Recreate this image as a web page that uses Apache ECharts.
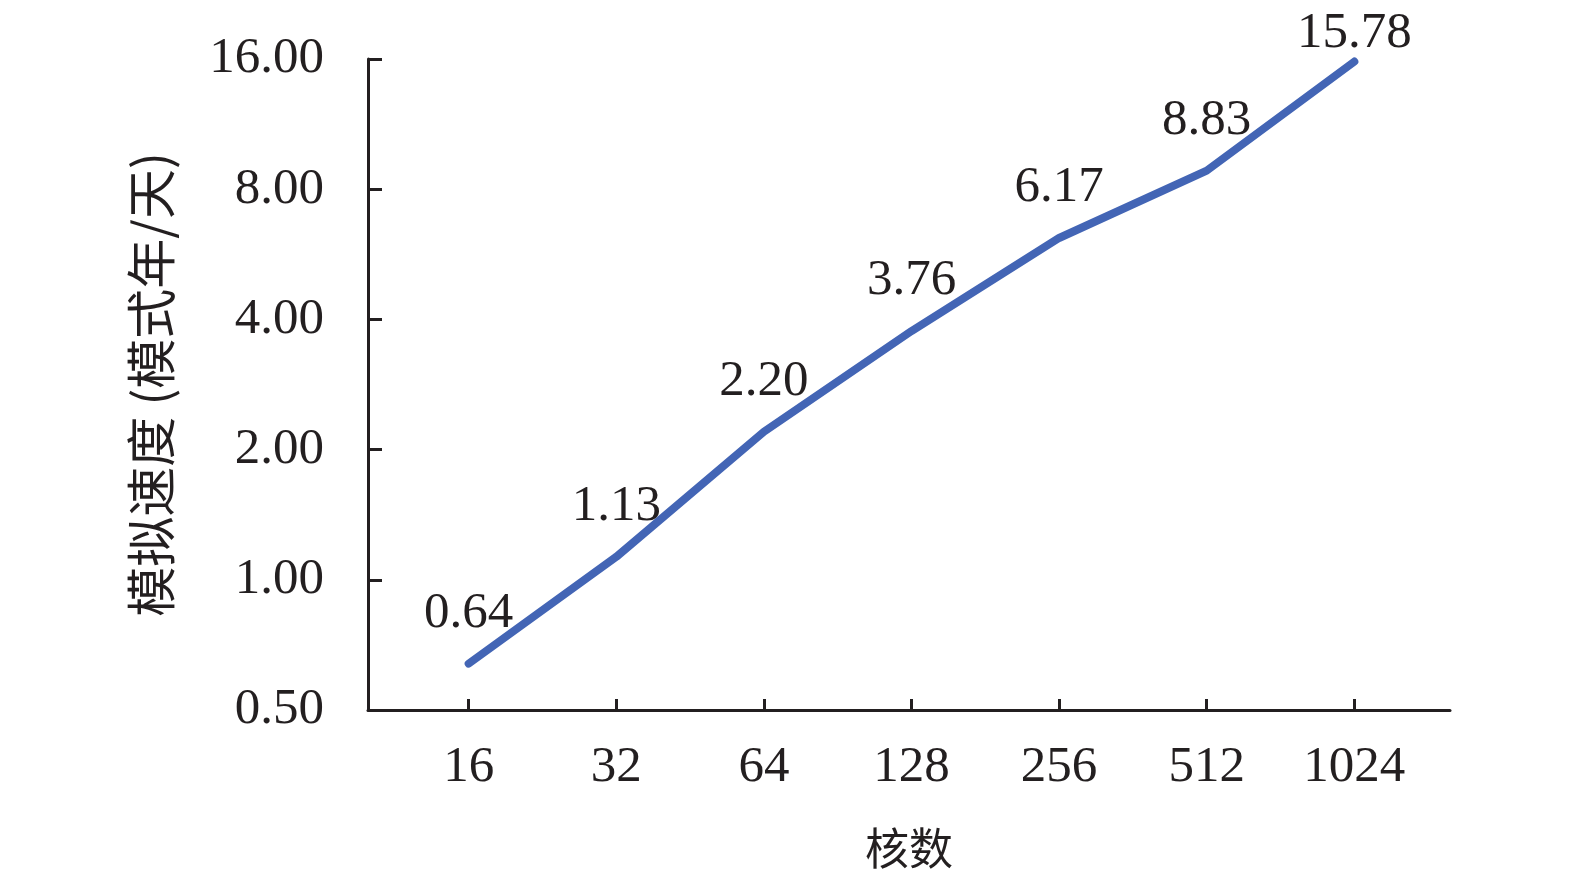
<!DOCTYPE html>
<html>
<head>
    <meta charset="utf-8">
    <title>模拟速度</title>
    <style>
        html, body { margin: 0; padding: 0; background: #fff; }
    </style>
</head>
<body>
        <div id="main" style="width: 1575px;height:882px;"></div>
</body>
<script src="https://cdn.jsdelivr.net/npm/echarts@6/dist/echarts.min.js"></script>
<script>
// 核数 (x) 和 模拟速度 (y, 模式年/天)
var cores = ['16', '32', '64', '128', '256', '512', '1024'];
var speeds = [0.64, 1.13, 2.20, 3.76, 6.17, 8.83, 15.78];

var serif = "'Liberation Serif', 'Times New Roman', 'Noto Sans CJK SC', serif";
var ink = '#231f20';

var myChart = echarts.init(document.getElementById('main'));

var idx = cores.map(function (c, i) { return i; });

myChart.setOption({
        animation: false,
        grid: {
            left: 368,
            right: 125,
            top: 59,
            bottom: 172,
            outerBoundsMode: 'none',
            containLabel: false
        },
        xAxis: {
            type: 'value',
            min: -0.682,
            max: 6.648,
            name: '核数',
            nameLocation: 'middle',
            nameGap: 116,
            nameTextStyle: { fontFamily: "'Noto Sans CJK SC', sans-serif", fontSize: 44, color: ink },
            axisLine: { show: true, onZero: false, lineStyle: { color: ink, width: 3 } },
            axisTick: { show: true, inside: true, length: 11, customValues: idx, lineStyle: { color: ink, width: 3 } },
            axisLabel: {
                customValues: idx,
                margin: 32,
                fontFamily: serif,
                fontSize: 51,
                color: ink,
                formatter: function (v) { return cores[Math.round(v)]; }
            },
            splitLine: { show: false }
        },
        yAxis: {
            type: 'log',
            logBase: 2,
            min: 0.5,
            max: 16,
            name: '模拟速度 (模式年/天)',
            nameLocation: 'middle',
            nameGap: 192,
            nameRotate: 90,
            nameTextStyle: { fontFamily: "'Noto Sans CJK SC', sans-serif", fontSize: 50, color: ink },
            axisLine: { show: true, onZero: false, lineStyle: { color: ink, width: 3 } },
            axisTick: { show: true, inside: true, length: 14, lineStyle: { color: ink, width: 3 } },
            axisLabel: {
                margin: 44,
                fontFamily: serif,
                fontSize: 51,
                color: ink,
                formatter: function (v) { return v.toFixed(2); }
            },
            splitLine: { show: false }
        },
        series: [{
            type: 'line',
            data: speeds.map(function (v, i) { return [i, v]; }),
            symbol: 'circle',
            symbolSize: 1,
            showSymbol: true,
            itemStyle: { color: '#4365b5' },
            lineStyle: { color: '#4365b5', width: 8, cap: 'round', join: 'round' },
            label: {
                show: true,
                position: 'top',
                distance: 24,
                fontFamily: serif,
                fontSize: 51,
                color: ink,
                formatter: function (p) { return p.value[1].toFixed(2); }
            },
            // 顶部标签别被裁掉
            labelLayout: function (p) {
                if (p.labelRect.y < 8) {
                    return { dy: 8 - p.labelRect.y };
                }
                return {};
            }
        }]
    });
</script>
</html>
